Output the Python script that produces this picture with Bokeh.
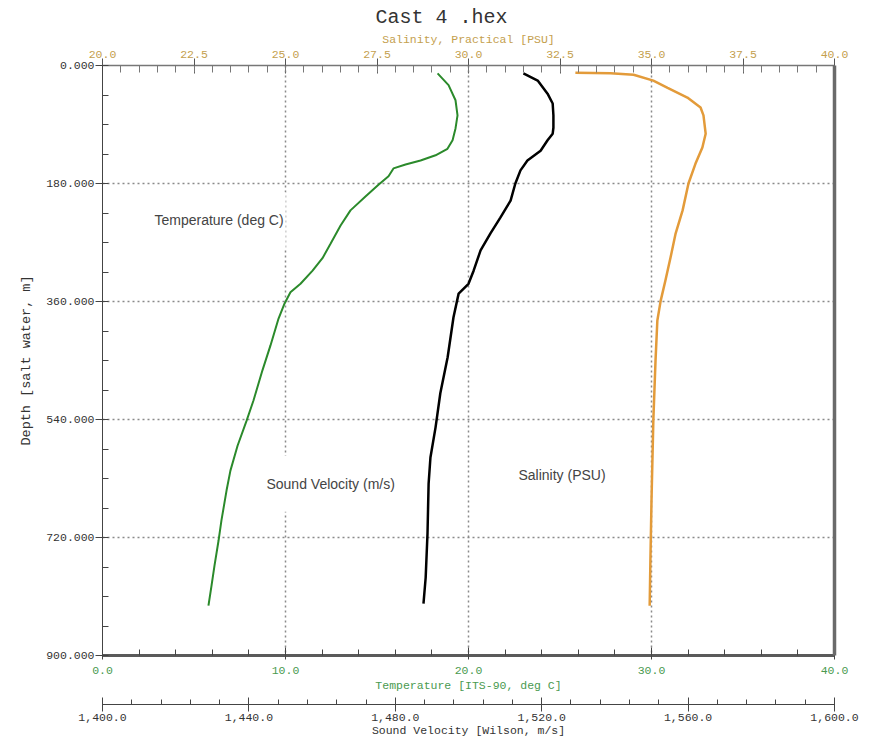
from bokeh.plotting import figure
from bokeh.models import (Range1d, LinearAxis, SingleIntervalTicker, NumeralTickFormatter,
                          Grid, Label, FixedTicker, Title)
from bokeh.embed import file_html
from bokeh.resources import INLINE

# ---- data ----
temp_depth = [12, 30, 53, 76, 96, 114, 127, 137, 145, 151, 157, 169, 182, 200, 221, 244,
              272, 294, 313, 333, 346, 363, 386, 427, 465, 511, 542, 580, 618, 648, 694,
              725, 763, 793, 824]
temperature = [18.31, 18.91, 19.29, 19.40, 19.29, 19.13, 18.85, 18.20, 17.38, 16.56, 15.90,
               15.63, 15.08, 14.37, 13.55, 13.01, 12.46, 12.02, 11.48, 10.82, 10.27, 9.95,
               9.62, 9.18, 8.74, 8.25, 7.87, 7.38, 6.99, 6.78, 6.50, 6.34, 6.12, 5.96, 5.79]

sv_depth = [12, 23, 43, 58, 76, 95, 104, 114, 130, 145, 160, 180, 206, 232, 256, 282, 313,
            333, 348, 384, 445, 500, 552, 598, 638, 714, 781, 821]
sound_velocity = [1515.0, 1518.9, 1521.6, 1523.0, 1523.2, 1523.2, 1523.0, 1521.6, 1519.7,
                  1516.1, 1514.2, 1512.8, 1511.5, 1508.7, 1506.0, 1503.3, 1501.4, 1500.0,
                  1497.3, 1495.9, 1494.3, 1492.3, 1491.0, 1489.6, 1489.1, 1488.8, 1488.3,
                  1487.7]

sal_depth = [11, 12, 14, 23, 34, 49, 64, 76, 104, 125, 150, 180, 221, 256, 293, 328, 359,
             389, 450, 542, 664, 755, 824]
salinity = [32.92, 33.88, 34.51, 35.05, 35.44, 35.98, 36.34, 36.42, 36.48, 36.39, 36.20,
            36.01, 35.85, 35.66, 35.52, 35.38, 35.25, 35.16, 35.11, 35.05, 35.00, 34.97,
            34.95]

title_text = "Cast 4 .hex"
MONO = "Liberation Mono"
SANS = "Liberation Sans"

p = figure(width=871, height=739, output_backend="svg", toolbar_location=None,
           x_axis_location=None, y_axis_location=None,
           x_range=Range1d(0, 40), y_range=Range1d(900, 0),
           min_border_left=102, min_border_right=37, min_border_top=65,
           min_border_bottom=84)
p.extra_x_ranges = {"sal": Range1d(20, 40), "sv": Range1d(1400, 1600)}
p.outline_line_color = None
p.background_fill_color = "white"
p.border_fill_color = "white"
for g in list(p.grid):
    g.visible = False

p.title = Title(text=title_text, align="left", offset=273, text_font=MONO,
                text_font_size="20px", text_font_style="normal", text_color="#333333",
                standoff=1)


def style(ax, color, size="11.5px"):
    ax.major_label_text_font = MONO
    ax.major_label_text_font_size = "11.5px"
    ax.major_label_text_color = color
    ax.axis_label_text_font = MONO
    ax.axis_label_text_font_size = size
    ax.axis_label_text_font_style = "normal"
    ax.axis_label_text_color = color


temp_ticker = SingleIntervalTicker(interval=10, num_minor_ticks=5)
depth_ticker = SingleIntervalTicker(interval=180, num_minor_ticks=4)

# temperature axis (below, closest)
t_ax = LinearAxis(ticker=temp_ticker, formatter=NumeralTickFormatter(format="0.0"),
                  axis_label="Temperature [ITS-90, deg C]")
style(t_ax, "#4a9a50")
t_ax.major_tick_in = 8
t_ax.major_tick_out = 4
t_ax.minor_tick_in = 6
t_ax.minor_tick_out = 0
t_ax.axis_line_width = 3
t_ax.axis_line_color = "#5a5a5a"
t_ax.major_tick_line_color = "#444444"
t_ax.minor_tick_line_color = "#444444"
t_ax.major_label_standoff = 7
t_ax.axis_label_standoff = 2
p.add_layout(t_ax, "below")

# empty spacer between the two bottom axes (blank label gives it a height)
spacer = LinearAxis(ticker=FixedTicker(ticks=[]), axis_line_color=None,
                    major_tick_in=0, major_tick_out=0, minor_tick_in=0, minor_tick_out=0,
                    major_label_standoff=0, axis_label_standoff=0, axis_label=" ",
                    axis_label_text_font_size="6px", axis_label_text_font=MONO)
p.add_layout(spacer, "below")

# sound velocity axis (below, outer)
sv_ax = LinearAxis(x_range_name="sv",
                   ticker=SingleIntervalTicker(interval=40, num_minor_ticks=5),
                   formatter=NumeralTickFormatter(format="0,0.0"),
                   axis_label="Sound Velocity [Wilson, m/s]")
style(sv_ax, "#333333")
sv_ax.major_tick_in = 7
sv_ax.major_tick_out = 7
sv_ax.minor_tick_in = 5
sv_ax.minor_tick_out = 0
sv_ax.axis_line_color = "#444444"
sv_ax.major_tick_line_color = "#444444"
sv_ax.minor_tick_line_color = "#444444"
sv_ax.major_label_standoff = 2
sv_ax.axis_label_standoff = 0
p.add_layout(sv_ax, "below")

# salinity axis (above)
s_ax = LinearAxis(x_range_name="sal",
                  ticker=SingleIntervalTicker(interval=2.5, num_minor_ticks=5),
                  formatter=NumeralTickFormatter(format="0.0"),
                  axis_label="Salinity, Practical [PSU]")
style(s_ax, "#c4a04e")
s_ax.major_tick_in = 8
s_ax.major_tick_out = 7
s_ax.minor_tick_in = 7
s_ax.minor_tick_out = 0
s_ax.axis_line_color = "#777777"
s_ax.axis_line_width = 1.5
s_ax.major_tick_line_color = "#555555"
s_ax.minor_tick_line_color = "#777777"
s_ax.major_label_standoff = 1
s_ax.axis_label_standoff = 2
p.add_layout(s_ax, "above")

# depth axis (left)
d_ax = LinearAxis(ticker=depth_ticker, formatter=NumeralTickFormatter(format="0.000"),
                  axis_label="Depth [salt water, m]")
style(d_ax, "#333333", size="13.5px")
d_ax.major_tick_in = 0
d_ax.major_tick_out = 7
d_ax.minor_tick_in = 6
d_ax.minor_tick_out = 0
d_ax.axis_line_color = "#444444"
d_ax.major_tick_line_color = "#444444"
d_ax.minor_tick_line_color = "#444444"
d_ax.major_label_standoff = 1
d_ax.axis_label_standoff = 9
p.add_layout(d_ax, "left")

# right border as a bare axis
r_ax = LinearAxis(ticker=FixedTicker(ticks=[]), axis_line_width=3.5,
                  axis_line_color="#6a6a6a", major_tick_out=0, minor_tick_out=0)
p.add_layout(r_ax, "right")

# grids
for dim, tk in ((0, temp_ticker), (1, depth_ticker)):
    p.add_layout(Grid(dimension=dim, ticker=tk, grid_line_color="#8a8a8a",
                      grid_line_dash="2 3", grid_line_width=1.5))

# labels (white boxes that interrupt the grid, drawn beneath the curves)
for x, y, txt in ((2.73, 236, "Temperature (deg C)"),
                  (8.85, 638, "Sound Velocity (m/s)"),
                  (22.62, 625, "Salinity (PSU)")):
    p.add_layout(Label(x=x, y=y, text=txt, text_font=SANS, text_font_size="14px",
                       text_color="#444444", text_baseline="middle", level="underlay",
                       background_fill_color="white", background_fill_alpha=1.0,
                       padding=(2, 20)))

# curves
p.line(temperature, temp_depth, line_color="#2b8a2b", line_width=2)
p.line(sound_velocity, sv_depth, x_range_name="sv", line_color="black", line_width=2.5)
p.line(salinity, sal_depth, x_range_name="sal", line_color="#e39b3a", line_width=2.5)

open("out.html", "w").write(file_html(p, INLINE))
